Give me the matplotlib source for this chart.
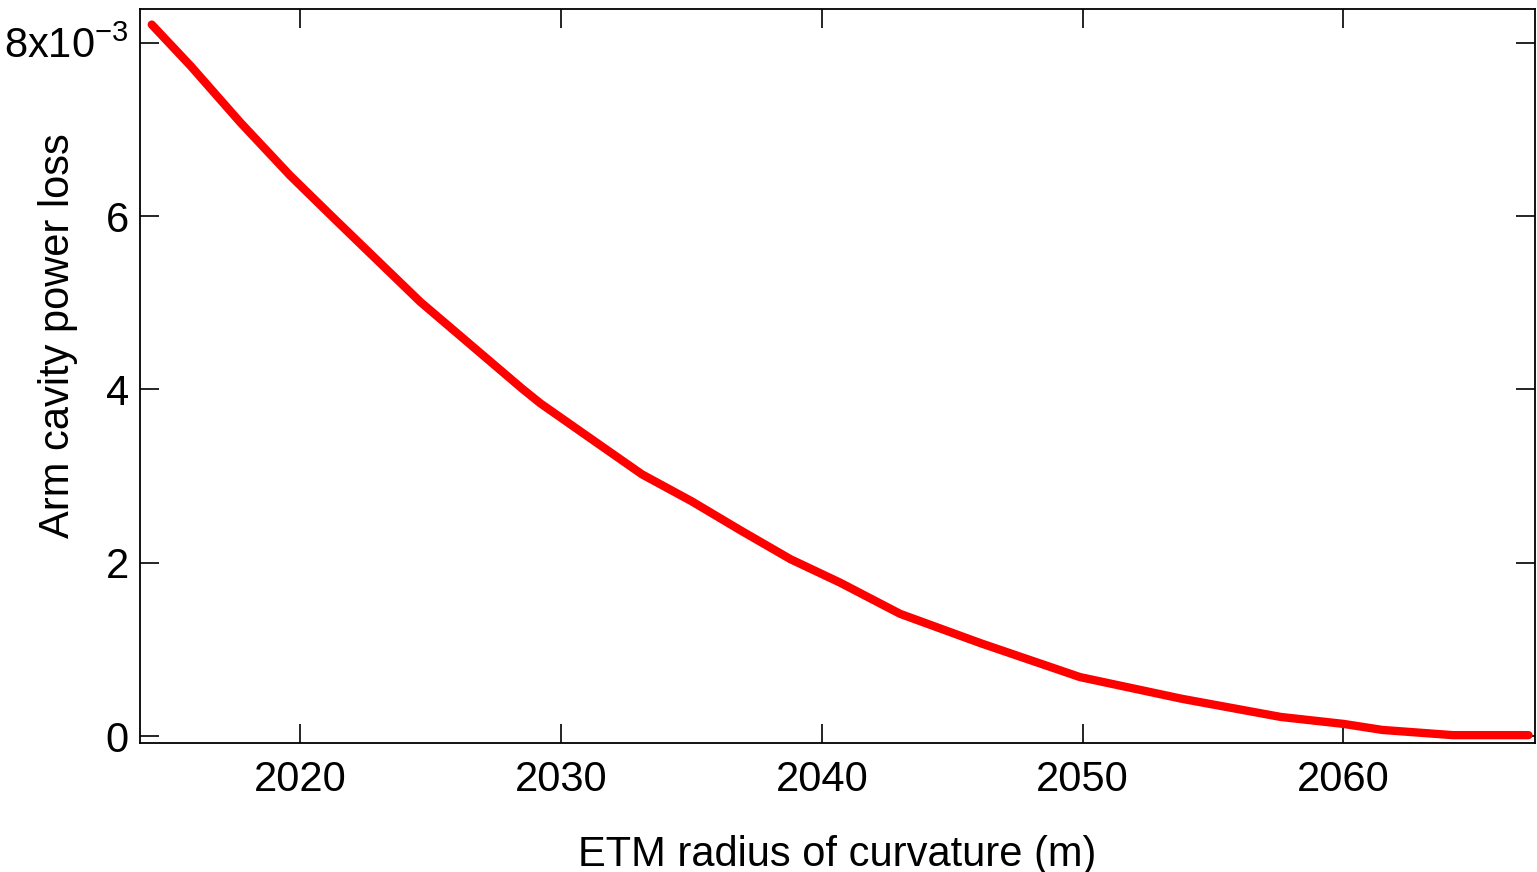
import matplotlib
matplotlib.use('Agg')
import matplotlib.pyplot as plt

# values (loss in units of 1e-3)
etm_roc = [2014.3, 2015.8, 2017.7, 2019.6, 2021.3, 2024.6, 2028.5, 2029.2,
           2031.1, 2033.1, 2035.0, 2036.9, 2038.8, 2040.7, 2043.0, 2046.1,
           2049.9, 2053.8, 2057.6, 2060.0, 2061.5, 2064.2, 2067.1]
power_loss = [8.21, 7.73, 7.08, 6.47, 5.97, 5.01, 4.01, 3.84,
              3.44, 3.02, 2.71, 2.37, 2.04, 1.77, 1.41, 1.07,
              0.68, 0.43, 0.22, 0.14, 0.07, 0.01, 0.01]

xticks = [2020, 2030, 2040, 2050, 2060]
yticks = [0, 2, 4, 6, 8]
ytick_labels = ['0', '2', '4', '6', '8x10$^{-3}$']

plt.rcParams['font.family'] = ['Liberation Sans', 'DejaVu Sans']
plt.rcParams['mathtext.fontset'] = 'custom'
plt.rcParams['mathtext.rm'] = 'Liberation Sans'
plt.rcParams['mathtext.default'] = 'regular'

fig = plt.figure(figsize=(15.37, 8.72), dpi=100)
ax = fig.add_axes([0.0911, 0.148, 0.9076, 0.8417])

ax.plot(etm_roc, power_loss, '-', color='#ff0000', linewidth=6,
        solid_capstyle='round', solid_joinstyle='round')

ax.set_xlim(2013.85, 2067.35)
ax.set_ylim(-0.08, 8.39)
ax.set_xticks(xticks)
ax.set_yticks(yticks)
ax.set_yticklabels(ytick_labels)

ax.tick_params(direction='in', length=13.5, width=1.2, labelsize=30,
               top=True, right=True)
ax.tick_params(axis='x', pad=12)
ax.tick_params(axis='y', pad=8)
for s in ax.spines.values():
    s.set_linewidth(1.3)

ax.set_xlabel('ETM radius of curvature (m)', fontsize=30)
ax.set_ylabel('Arm cavity power loss', fontsize=30)
ax.xaxis.set_label_coords(0.5, -0.152)
ax.yaxis.set_label_coords(-0.059, 0.555)
ax.yaxis.label.set_va('center')
ax.xaxis.label.set_va('center')

fig.savefig('out.png', dpi=100)
